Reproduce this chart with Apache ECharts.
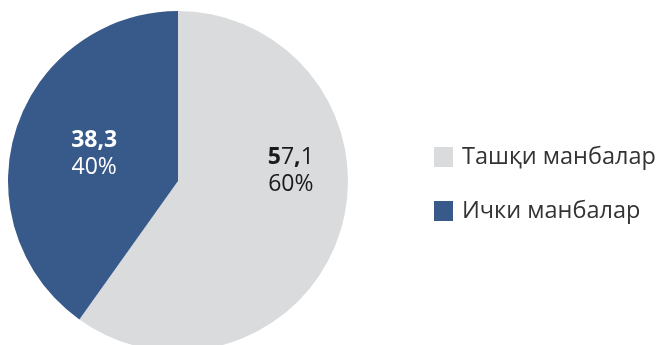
<!DOCTYPE html>
<html>
<head>
<meta charset="utf-8">
<script src="https://cdn.jsdelivr.net/npm/echarts@6/dist/echarts.min.js"></script>
<style>
  html, body { margin: 0; padding: 0; background: #ffffff; }
  #chart { width: 660px; height: 345px; }
</style>
</head>
<body>
<div id="chart"></div>
<script>
// Funding sources (values in the units shown on the slices)
var categories = ['Ташқи манбалар', 'Ички манбалар'];
var values = [57.1, 38.3];
var colors = ['#d9dbdc', '#385a8b'];

var FONT = '"Open Sans", "Noto Sans", sans-serif';

// Characters of each value label drawn in bold
function valueRich(idx, text) {
  var out = '';
  for (var i = 0; i < text.length; i++) {
    var ch = text[i];
    var bold = idx === 1 || i === 0 || ch === ',';
    out += '{' + (bold ? 'b' : 'n') + '|' + ch + '}';
  }
  return out;
}

var labelStyles = [
  { color: '#1a1a1a', offset: [29, -37] },
  { color: '#ffffff', offset: [0, 0] }
];

var data = categories.map(function (name, i) {
  return {
    name: name,
    value: values[i],
    itemStyle: { color: colors[i] },
    label: {
      color: labelStyles[i].color,
      offset: labelStyles[i].offset,
      rich: {
        b: { fontFamily: FONT, fontSize: 23, fontWeight: 'bold', color: labelStyles[i].color, lineHeight: 27 },
        n: { fontFamily: FONT, fontSize: 23, fontWeight: 'normal', color: labelStyles[i].color, lineHeight: 27 }
      }
    }
  };
});

var chart = echarts.init(document.getElementById('chart'), null, { renderer: 'canvas' });
chart.setOption({
  animation: false,
  backgroundColor: '#ffffff',
  legend: {
    orient: 'vertical',
    left: 434,
    top: 145,
    padding: 0,
    itemWidth: 19,
    itemHeight: 20,
    itemGap: 30,
    icon: 'rect',
    selectedMode: false,
    data: categories,
    textStyle: {
      fontFamily: FONT,
      fontSize: 23.5,
      lineHeight: 20,
      color: '#333333',
      padding: [0, 0, 0, 4]
    }
  },
  series: [{
    type: 'pie',
    center: [178, 181],
    radius: [0, 170],
    startAngle: 90,
    clockwise: true,
    silent: true,
    label: {
      show: true,
      position: 'inside',
      formatter: function (p) {
        var txt = String(p.value).replace('.', ',');
        return valueRich(p.dataIndex, txt) + '\n{n|' + Math.round(p.percent) + '%}';
      }
    },
    labelLine: { show: false },
    itemStyle: { borderWidth: 0 },
    data: data
  }]
});
</script>
</body>
</html>
